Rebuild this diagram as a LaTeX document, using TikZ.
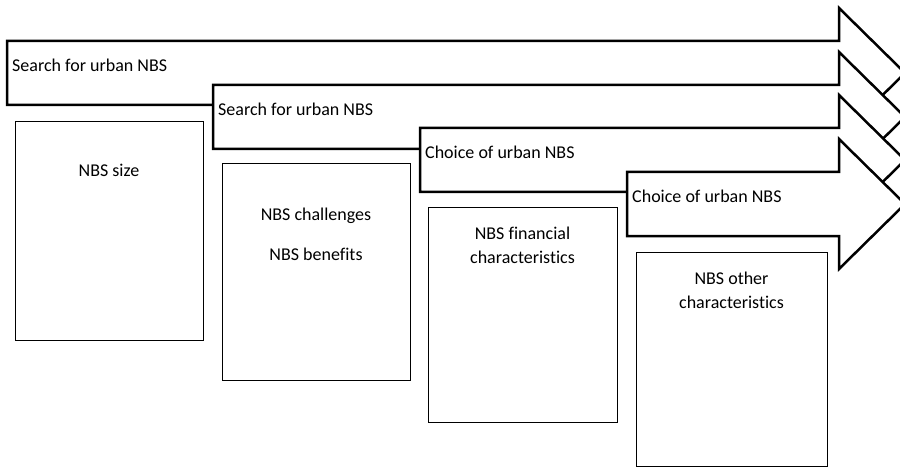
\documentclass[tikz,border=0pt]{standalone}
\usepackage{fontspec}
\setmainfont{Carlito}[Ligatures=CommonOff]
\begin{document}
\begin{tikzpicture}[x=1pt,y=-1pt,
  bigarrow/.style={draw=black,fill=white,line width=2.5pt,line join=miter},
  infobox/.style={draw=black,fill=white,line width=0.9pt},
  arrowtext/.style={anchor=base west,inner sep=0pt,font=\fontsize{18}{22}\selectfont},
  boxtext/.style={anchor=base,inner sep=0pt,align=center,font=\fontsize{18}{24}\selectfont}]
\useasboundingbox (0,0) rectangle (900,468);
\clip (0,0) rectangle (900,468);
% boxes
\draw[infobox] (15,121) rectangle (203,340);
\node[boxtext] (t1) at (109,177) {NBS size};
\draw[infobox] (222,163) rectangle (410,380);
\node[boxtext] (t2a) at (316,220) {NBS challenges};
\node[boxtext] (t2b) at (316,260) {NBS benefits};
\draw[infobox] (428,207) rectangle (617,422);
\node[boxtext] (t3) at (522.5,263) {NBS financial\\characteristics};
\draw[infobox] (636,252) rectangle (827,466);
\node[boxtext] (t4) at (731.5,308) {NBS other\\characteristics};
% arrows
\foreach \lx/\top/\lab/\nm in {7/41/Search for urban NBS/a1, 213/85/Search for urban NBS/a2, 420/128/Choice of urban NBS/a3, 627/172/Choice of urban NBS/a4}{
  \draw[bigarrow] (\lx,\top) -- (839,\top) -- (839,\top-33) -- (905,\top+32) -- (839,\top+97) -- (839,\top+64) -- (\lx,\top+64) -- cycle;
  \node[arrowtext] (\nm) at (\lx+5,\top+31) {\lab};
}
\end{tikzpicture}
\end{document}
